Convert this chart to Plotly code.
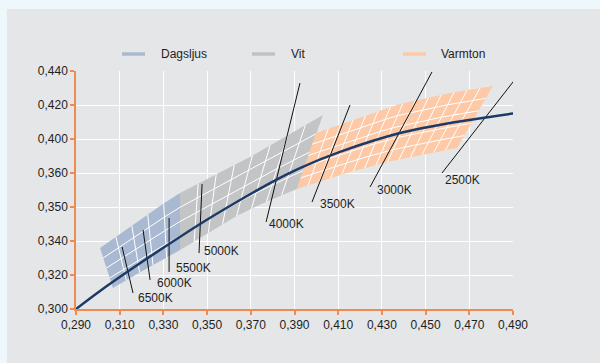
import numpy as np
import plotly.graph_objects as go

# ---------------- data ----------------
x_ticks = [0.290, 0.310, 0.330, 0.350, 0.370, 0.390, 0.410, 0.430, 0.450, 0.470, 0.490]
x_tick_labels = ["0,290", "0,310", "0,330", "0,350", "0,370", "0,390", "0,410", "0,430", "0,450", "0,470", "0,490"]
# the printed y scale is not linear: labels sit at evenly spaced positions
y_tick_pos = [0.300, 0.320, 0.340, 0.360, 0.380, 0.400, 0.420, 0.440]
y_tick_labels = ["0,300", "0,320", "0,340", "0,350", "0,360", "0,400", "0,420", "0,440"]

planck_x = [0.2900, 0.3010, 0.3147, 0.3284, 0.3468, 0.3651, 0.3788, 0.3925, 0.4108, 0.4383, 0.4612, 0.4918]
planck_y = [0.3000, 0.3106, 0.3229, 0.3347, 0.3500, 0.3641, 0.3741, 0.3829, 0.3924, 0.4035, 0.4094, 0.4153]

series_names = ["Dagsljus", "Vit", "Varmton"]

dag_top_x = [0.3010, 0.3101, 0.3193, 0.3284, 0.3376]
dag_top_y = [0.3359, 0.3441, 0.3524, 0.3606, 0.3682]
dag_bot_x = [0.3069, 0.3147, 0.3225, 0.3303, 0.3376]
dag_bot_y = [0.3124, 0.3182, 0.3241, 0.3294, 0.3347]

vit_top_x = [0.3376, 0.3536, 0.3696, 0.3866, 0.4030]
vit_top_y = [0.3682, 0.3788, 0.3894, 0.4018, 0.4141]
vit_bot_x = [0.3376, 0.3513, 0.3651, 0.3788, 0.3911]
vit_bot_y = [0.3347, 0.3453, 0.3559, 0.3641, 0.3706]

var_top_x = [0.3998, 0.4154, 0.4383, 0.4612, 0.4808]
var_top_y = [0.4035, 0.4106, 0.4206, 0.4271, 0.4312]
var_bot_x = [0.3911, 0.4108, 0.4305, 0.4474, 0.4644]
var_bot_y = [0.3706, 0.3788, 0.3859, 0.3906, 0.3947]

temp_labels = ["6500K", "6000K", "5500K", "5000K", "4000K", "3500K", "3000K", "2500K"]
iso_low_x = [0.3161, 0.3239, 0.3326, 0.3463, 0.3770, 0.3980, 0.4246, 0.4575]
iso_low_y = [0.3094, 0.3171, 0.3218, 0.3329, 0.3512, 0.3629, 0.3718, 0.3800]
iso_high_x = [0.3111, 0.3207, 0.3326, 0.3477, 0.3925, 0.4154, 0.4529, 0.4918]
iso_high_y = [0.3365, 0.3465, 0.3535, 0.3735, 0.4329, 0.4200, 0.4394, 0.4365]
label_x = [0.3175, 0.3262, 0.3349, 0.3477, 0.3774, 0.4008, 0.4268, 0.4580]
label_y = [0.3065, 0.3153, 0.3241, 0.3341, 0.3500, 0.3618, 0.3700, 0.3759]

# ---------------- style ----------------
ORANGE = "#ef8a50"
PANEL = "#e5e6e8"
OUTER = "#eef7fb"
CURVE = "#1d3a66"
TEXT = "#1e1e1e"
FONT = "Liberation Sans, Arial, sans-serif"
patch_colors = ["#a8b9d1", "#c3c4c6", "#fdc9a6"]
swatch_colors = ["#aab9d0", "#c2c2c2", "#fdcaa8"]
grid_counts = [(5, 4), (8, 4), (14, 5)]  # (columns, rows)

SX, SY = 2185.0, 1700.0  # relative aspect for arc length resampling


def resample(xs, ys, n):
    xs = np.asarray(xs, float)
    ys = np.asarray(ys, float)
    d = np.hypot(np.diff(xs) * SX, np.diff(ys) * SY)
    s = np.concatenate([[0], np.cumsum(d)])
    s /= s[-1]
    t = np.linspace(0, 1, n + 1)
    return np.interp(t, s, xs), np.interp(t, s, ys)


fig = go.Figure()

patches = [
    (dag_top_x, dag_top_y, dag_bot_x, dag_bot_y),
    (vit_top_x, vit_top_y, vit_bot_x, vit_bot_y),
    (var_top_x, var_top_y, var_bot_x, var_bot_y),
]

for (tx, ty, bx, by), col, (nc, nr), name in zip(patches, patch_colors, grid_counts, series_names):
    txr, tyr = resample(tx, ty, nc)
    bxr, byr = resample(bx, by, nc)
    px = list(txr) + list(bxr[::-1]) + [txr[0]]
    py = list(tyr) + list(byr[::-1]) + [tyr[0]]
    fig.add_trace(go.Scatter(x=px, y=py, fill="toself", fillcolor=col, mode="lines",
                             line=dict(width=0, color=col), name=name, showlegend=False,
                             hoverinfo="skip"))
    mx, my = [], []
    for i in range(1, nc):
        mx += [txr[i], bxr[i], None]
        my += [tyr[i], byr[i], None]
    for k in range(1, nr):
        f = k / nr
        mx += list(txr * (1 - f) + bxr * f) + [None]
        my += list(tyr * (1 - f) + byr * f) + [None]
    fig.add_trace(go.Scatter(x=mx, y=my, mode="lines", line=dict(color="white", width=1),
                             showlegend=False, hoverinfo="skip"))

# isotherm marker lines
lx, ly = [], []
for a, b, c, d in zip(iso_low_x, iso_low_y, iso_high_x, iso_high_y):
    lx += [a, c, None]
    ly += [b, d, None]
fig.add_trace(go.Scatter(x=lx, y=ly, mode="lines", line=dict(color="#111111", width=1),
                         showlegend=False, hoverinfo="skip"))

# Planck curve
fig.add_trace(go.Scatter(x=planck_x, y=planck_y, mode="lines",
                         line=dict(color=CURVE, width=2.5, shape="spline", smoothing=0.8),
                         showlegend=False, hoverinfo="skip"))

annotations = []
for t, x, y in zip(temp_labels, label_x, label_y):
    annotations.append(dict(x=x, y=y, xref="x", yref="y", text=t, showarrow=False,
                            xanchor="left", yanchor="middle",
                            font=dict(family=FONT, size=12, color=TEXT)))
annotations.append(dict(x=planck_x[-1], y=planck_y[-1], xref="x", yref="y",
                        text="Planck'sche<br>Kurve", showarrow=False, xanchor="left",
                        yanchor="middle", xshift=5, yshift=-7, align="left",
                        font=dict(family=FONT, size=12, color=TEXT)))

# legend (manual, at top of panel)
shapes = [dict(type="rect", xref="paper", yref="paper", x0=-0.158, x1=1.25, y0=-0.3, y1=1.2605,
               fillcolor=PANEL, line=dict(width=0), layer="below")]
leg_sw = [(0.1053, 0.1579), (0.4027, 0.4554), (0.7483, 0.8009)]
leg_tx = [0.1899, 0.4874, 0.8307]
for name, (a, b), tx, col in zip(series_names, leg_sw, leg_tx, swatch_colors):
    shapes.append(dict(type="line", xref="paper", yref="paper", x0=a, x1=b, y0=1.0714, y1=1.0714,
                       line=dict(color=col, width=3.5)))
    annotations.append(dict(x=tx, y=1.0714, xref="paper", yref="paper", text=name, showarrow=False,
                            xanchor="left", yanchor="middle",
                            font=dict(family=FONT, size=12, color=TEXT)))

axis_common = dict(showgrid=True, gridcolor="white", gridwidth=1, zeroline=False,
                   showline=True, linecolor=ORANGE, linewidth=1.5,
                   ticks="outside", ticklen=4, tickcolor=ORANGE, tickwidth=1.5,
                   tickfont=dict(family=FONT, size=12, color=TEXT), fixedrange=True)

fig.update_layout(
    width=600, height=363,
    margin=dict(l=76, r=87, t=71, b=54),
    paper_bgcolor=OUTER, plot_bgcolor=PANEL,
    xaxis=dict(range=[0.290, 0.490], tickvals=x_ticks, ticktext=x_tick_labels, **axis_common),
    yaxis=dict(range=[0.300, 0.440], tickvals=y_tick_pos, ticktext=y_tick_labels, **axis_common),
    shapes=shapes, annotations=annotations, showlegend=False,
)

fig.write_html("out.html", config={"displayModeBar": False},
               post_script="document.body.style.margin='0';document.body.style.overflow='hidden';")
